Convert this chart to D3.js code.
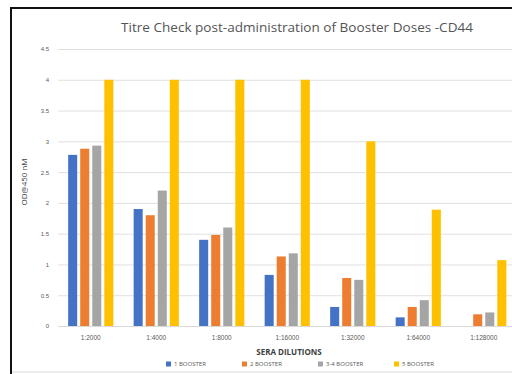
<!DOCTYPE html>
<html>
<head>
<meta charset="utf-8">
<script src="https://cdn.jsdelivr.net/npm/d3@7"></script>
<style>
  html, body { margin: 0; padding: 0; background: #fff; overflow: hidden; }
  svg { display: block; font-family: "Open Sans", "DejaVu Sans", sans-serif; }
</style>
</head>
<body>
<svg id="chart" width="512" height="374"></svg>
<script>
// Sera dilutions on the x axis
const dilutions = ["1:2000", "1:4000", "1:8000", "1:16000", "1:32000", "1:64000", "1:128000"];
// Series names (legend)
const seriesNames = ["1 BOOSTER", "2 BOOSTER", "3-4 BOOSTER", "5 BOOSTER"];
// OD@450 nM readings per series, one value per dilution
const series1 = [2.78, 1.90, 1.40, 0.83, 0.31, 0.14, 0.00];
const series2 = [2.88, 1.80, 1.48, 1.13, 0.78, 0.31, 0.19];
const series3 = [2.93, 2.20, 1.60, 1.18, 0.75, 0.42, 0.22];
const series4 = [4.00, 4.00, 4.00, 4.00, 3.00, 1.89, 1.07];
const yTicks = [0, 0.5, 1, 1.5, 2, 2.5, 3, 3.5, 4, 4.5];
const colors = ["#4472C4", "#ED7D31", "#A5A5A5", "#FFC000"];

const allSeries = [series1, series2, series3, series4];

const svg = d3.select("#chart");

// frame
svg.append("rect").attr("x", 0).attr("y", 0).attr("width", 512).attr("height", 374).attr("fill", "#fff");
svg.append("line").attr("x1", 11).attr("x2", 11).attr("y1", 7).attr("y2", 374)
  .attr("stroke", "#111").attr("stroke-width", 2);
svg.append("line").attr("x1", 10).attr("x2", 512).attr("y1", 8).attr("y2", 8)
  .attr("stroke", "#111").attr("stroke-width", 2);
svg.append("line").attr("x1", 12).attr("x2", 512).attr("y1", 372).attr("y2", 372)
  .attr("stroke", "#d9d9d9").attr("stroke-width", 1);

const plotLeft = 58, plotRight = 516.5, plotTop = 49, plotBottom = 326;

const y = d3.scaleLinear().domain([0, 4.5]).range([plotBottom, plotTop]);
const x0 = d3.scaleBand().domain(dilutions).range([plotLeft, plotRight])
  .paddingInner(0.31).paddingOuter(0.155);
const x1 = d3.scaleBand().domain(d3.range(allSeries.length)).range([0, x0.bandwidth()])
  .paddingInner(0.25);

// gridlines + y labels
const yAxis = d3.axisLeft(y).tickValues(yTicks).tickSize(-(plotRight - plotLeft)).tickPadding(9)
  .tickFormat(d => String(d));
const gy = svg.append("g").attr("transform", `translate(${plotLeft},0)`).call(yAxis);
gy.select(".domain").remove();
gy.selectAll(".tick line").attr("stroke", "#e0e0e0").attr("stroke-width", 1);
gy.selectAll(".tick text").attr("fill", "#595959").attr("font-size", 6);

// bars
const groups = svg.append("g").selectAll("g")
  .data(dilutions)
  .join("g")
  .attr("transform", d => `translate(${x0(d)},0)`);

groups.selectAll("rect")
  .data((d, i) => allSeries.map((s, k) => ({ k, v: s[i] })))
  .join("rect")
  .attr("x", d => x1(d.k))
  .attr("width", x1.bandwidth())
  .attr("y", d => y(d.v))
  .attr("height", d => plotBottom - y(d.v))
  .attr("fill", d => colors[d.k]);

// x axis
const xAxis = d3.axisBottom(x0).tickSize(0).tickPadding(9);
const gx = svg.append("g").attr("transform", `translate(0,${plotBottom})`).call(xAxis);
gx.select(".domain").attr("stroke", "#d9d9d9");
gx.selectAll(".tick text").attr("fill", "#595959").attr("font-size", 6.5);

// title
svg.append("text").attr("x", 297).attr("y", 32).attr("text-anchor", "middle")
  .attr("font-size", 12.5).attr("fill", "#555")
  .attr("textLength", 352).attr("lengthAdjust", "spacingAndGlyphs")
  .text("Titre Check post-administration of Booster Doses -CD44");

// axis titles
svg.append("text").attr("x", 289).attr("y", 355).attr("text-anchor", "middle")
  .attr("font-size", 8).attr("font-weight", "bold").attr("fill", "#404040")
  .text("SERA DILUTIONS");
svg.append("text").attr("transform", "translate(27,182) rotate(-90)").attr("text-anchor", "middle")
  .attr("font-size", 8).attr("fill", "#404040")
  .text("OD@450 nM");

// legend
const legend = svg.append("g").selectAll("g")
  .data(seriesNames)
  .join("g")
  .attr("transform", (d, i) => `translate(${166 + i * 76},364)`);
legend.append("rect").attr("x", 0).attr("y", -2.5).attr("width", 5).attr("height", 5)
  .attr("fill", (d, i) => colors[i]);
legend.append("text").attr("x", 8).attr("y", 2.2).attr("font-size", 6).attr("fill", "#595959")
  .text(d => d);
</script>
</body>
</html>
